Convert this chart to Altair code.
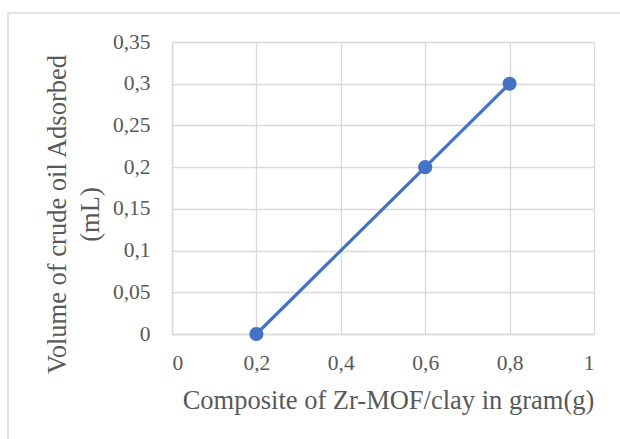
import altair as alt
import pandas as pd

# Data
composite_g = [0.2, 0.6, 0.8]
oil_ml = [0.0, 0.2, 0.3]

x_ticks = [0, 0.2, 0.4, 0.6, 0.8, 1]
y_ticks = [0, 0.05, 0.1, 0.15, 0.2, 0.25, 0.3, 0.35]

x_title = "Composite of Zr-MOF/clay in gram(g)"
y_title = ["Volume of crude oil Adsorbed", "(mL)"]

df = pd.DataFrame({"x": composite_g, "y": oil_ml})

FONT = "Liberation Serif"
BLUE = "#4472C4"
GRID = "#d9d9d9"
TXT = "#595959"

comma = "replace(format(datum.value, ''), '.', ',')"

x_enc = alt.X(
    "x:Q",
    scale=alt.Scale(domain=[0, 1], nice=False, zero=False),
    axis=alt.Axis(
        values=x_ticks,
        labelExpr=comma,
        title=x_title,
        ticks=False,
        grid=True,
        gridColor=GRID,
        gridWidth=1.3,
        domainColor=GRID,
        domainWidth=1.3,
        labelFont=FONT,
        labelFontSize=21.5,
        labelColor=TXT,
        labelPadding=35,
        labelBaseline="alphabetic",
        titleFont=FONT,
        titleFontSize=26.5,
        titleFontWeight="normal",
        titleColor=TXT,
        titleBaseline="alphabetic",
        titleX=216,
        titleY=74,
        titleAlign="center",
    ),
)
y_enc = alt.Y(
    "y:Q",
    scale=alt.Scale(domain=[0, 0.35], nice=False),
    axis=alt.Axis(
        values=y_ticks,
        labelExpr=comma,
        title=y_title,
        ticks=False,
        grid=True,
        gridColor=GRID,
        gridWidth=1.3,
        domainColor=GRID,
        domainWidth=1.3,
        labelFont=FONT,
        labelFontSize=21.5,
        labelColor=TXT,
        labelPadding=22,
        titleFont=FONT,
        titleFontSize=26.5,
        titleFontWeight="normal",
        titleColor=TXT,
        titleX=-101,
        titleY=172,
        titleAlign="center",
        titleAngle=270,
        titleBaseline="bottom",
        titleLineHeight=33,
    ),
)

frame = alt.Chart(pd.DataFrame({"a": [0]})).mark_rect(
    fill=None, stroke=GRID, strokeWidth=1.5
).encode(
    x=alt.value(-164), x2=alt.value(470), y=alt.value(-29), y2=alt.value(430)
)

line = alt.Chart(df).mark_line(color=BLUE, strokeWidth=3.2).encode(x=x_enc, y=y_enc)
pts = alt.Chart(df).mark_point(filled=True, color=BLUE, size=200, opacity=1).encode(
    x="x:Q", y="y:Q"
)

chart = (
    alt.layer(frame, line, pts)
    .properties(
        width=422,
        height=292,
        autosize=alt.AutoSizeParams(type="none"),
        padding={"left": 172, "top": 42, "right": 26, "bottom": 105},
        background="white",
    )
    .configure_view(stroke=None)
)

chart.save("out.html", embed_options={"renderer": "svg", "actions": False})
